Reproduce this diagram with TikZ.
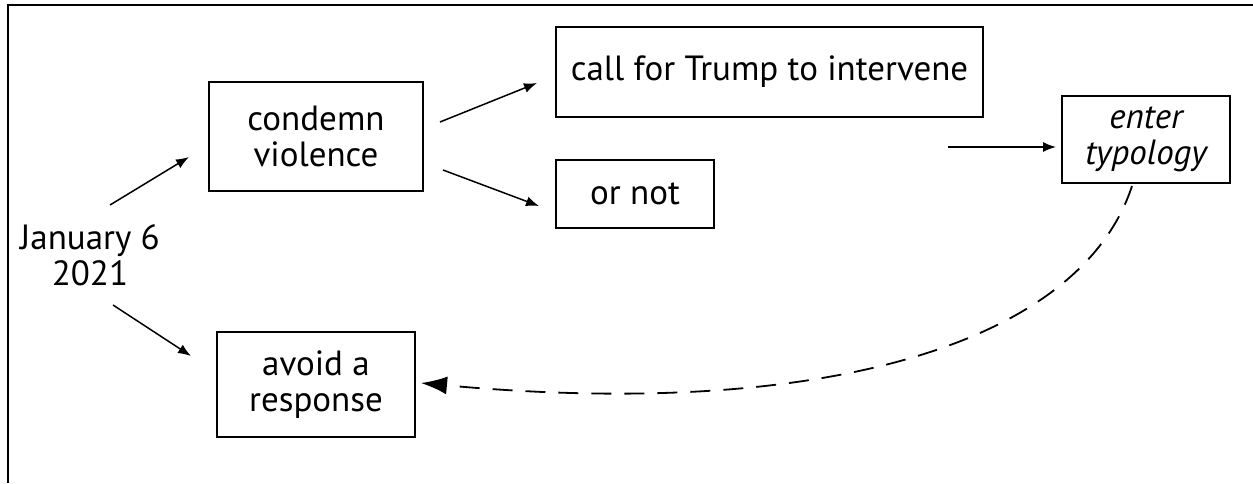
\documentclass[tikz,border=0pt]{standalone}
\usepackage{fontspec}
\setmainfont{PT Sans}
\usetikzlibrary{arrows.meta}
\begin{document}
\begin{tikzpicture}[x=1pt,y=-1pt,
  box/.style={draw, line width=1.4pt, inner sep=0pt, align=center, font=\fontsize{35}{36.5}\selectfont},
  lbl/.style={inner sep=0pt, align=center, font=\fontsize{35}{36.5}\selectfont},
  arr/.style={line width=1.5pt, -{Latex[length=13pt,width=10pt]}},
  darr/.style={line width=1.8pt, dash pattern=on 20pt off 13pt, -{Latex[length=26pt,width=18pt]}}]
\useasboundingbox (0,0) rectangle (1253,483);
\draw[line width=1.5pt] (8,483) -- (8,5) -- (1253,5);
\node[lbl] (jan) at (90,255) {January 6\\2021};
\node[box, minimum width=214pt, minimum height=109pt] (condemn) at (316,136.5) {condemn\\violence};
\node[box, minimum width=427pt, minimum height=90pt] (call) at (769.5,72) {call for Trump to intervene};
\node[box, minimum width=158pt, minimum height=68pt] (ornot) at (635,194) {or not};
\node[box, minimum width=168pt, minimum height=87pt] (enter) at (1146,139.5) {\itshape enter\\\itshape typology};
\node[box, minimum width=198pt, minimum height=105pt] (avoid) at (316,384.5) {avoid a\\response};
\coordinate (j1) at (110,205);
\coordinate (c1) at (189,157);
\coordinate (j2) at (113,305);
\coordinate (a1) at (191,356);
\coordinate (cs1) at (440,122);
\coordinate (ce1) at (537,83);
\coordinate (cs2) at (443,170);
\coordinate (ce2) at (539,206);
\coordinate (ts) at (948,147);
\coordinate (te) at (1056,147);
\coordinate (ds) at (1132,186);
\coordinate (de) at (421,383);
\draw[arr] (j1) -- (c1);
\draw[arr] (j2) -- (a1);
\draw[arr] (cs1) -- (ce1);
\draw[arr] (cs2) -- (ce2);
\draw[arr] (ts) -- (te);
\draw[darr] (ds) .. controls (1080,345) and (820,420) .. (de);
\end{tikzpicture}
\end{document}
